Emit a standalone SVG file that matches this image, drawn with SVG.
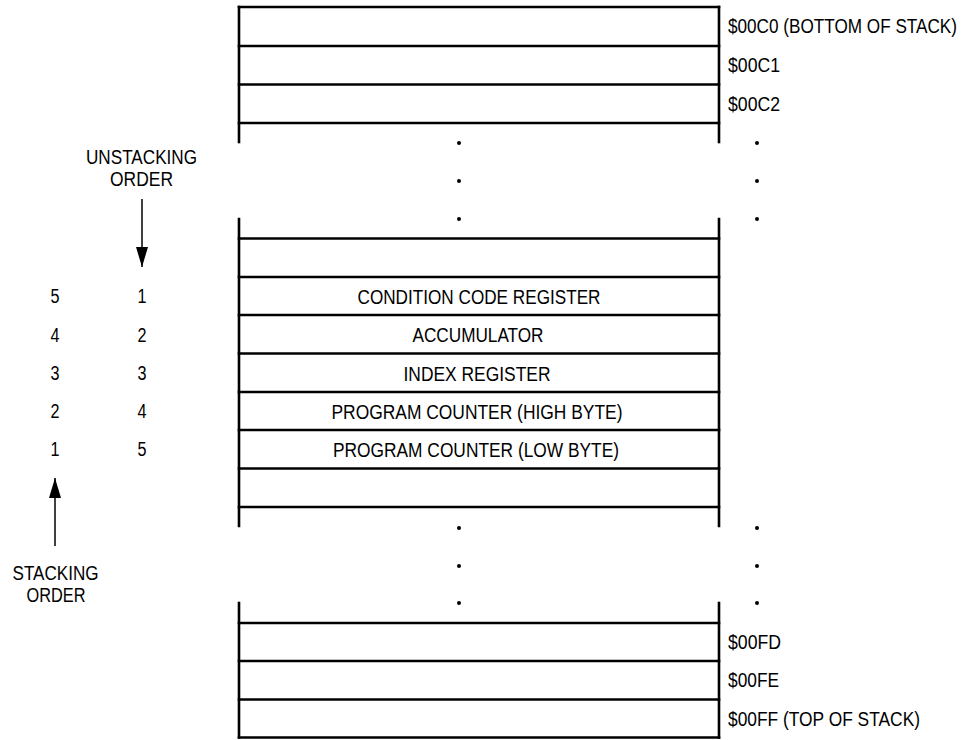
<svg xmlns="http://www.w3.org/2000/svg" width="974" height="740" viewBox="0 0 974 740">
<style>
.ln{stroke:#000;stroke-width:2.6;fill:none;stroke-linecap:square}
.t{font-family:"Liberation Sans",Arial,sans-serif;font-size:20px;fill:#000}
.c{text-anchor:middle}
.dot{fill:#000}
.ar{stroke:#000;stroke-width:1.5;fill:none}
</style>
<defs>
<marker id="ah" markerWidth="20" markerHeight="12" refX="20" refY="6" orient="auto" markerUnits="userSpaceOnUse" viewBox="0 0 20 12">
<path d="M0,0 L20,6 L0,12 Z" fill="#000"/>
</marker>
</defs>
<rect width="974" height="740" fill="#fff"/>

<g id="top-block">
<line class="ln" x1="239" y1="7" x2="239" y2="142"/>
<line class="ln" x1="719" y1="7" x2="719" y2="142"/>
<line class="ln" x1="239" y1="7" x2="719" y2="7"/>
<line class="ln" x1="239" y1="46" x2="719" y2="46"/>
<line class="ln" x1="239" y1="84.5" x2="719" y2="84.5"/>
<line class="ln" x1="239" y1="123" x2="719" y2="123"/>
</g>
<g id="addr-00C0"><text class="t" x="0" y="0" transform="translate(728,33) scale(1,1.18)" style="font-size:17px" textLength="229" lengthAdjust="spacingAndGlyphs">$00C0 (BOTTOM OF STACK)</text></g>
<g id="addr-00C1"><text class="t" x="728" y="72" textLength="52" lengthAdjust="spacingAndGlyphs">$00C1</text></g>
<g id="addr-00C2"><text class="t" x="728" y="110.5" textLength="52" lengthAdjust="spacingAndGlyphs">$00C2</text></g>

<g id="dots-top">
<circle class="dot" cx="459" cy="143" r="2"/><circle class="dot" cx="459" cy="181" r="2"/><circle class="dot" cx="459" cy="219" r="2"/>
<circle class="dot" cx="757" cy="143" r="2"/><circle class="dot" cx="757" cy="181" r="2"/><circle class="dot" cx="757" cy="219" r="2"/>
</g>

<g id="middle-block">
<line class="ln" x1="239" y1="219" x2="239" y2="526"/>
<line class="ln" x1="719" y1="219" x2="719" y2="526"/>
<line class="ln" x1="239" y1="238.5" x2="719" y2="238.5"/>
<line class="ln" x1="239" y1="277" x2="719" y2="277"/>
<line class="ln" x1="239" y1="315" x2="719" y2="315"/>
<line class="ln" x1="239" y1="353.5" x2="719" y2="353.5"/>
<line class="ln" x1="239" y1="392" x2="719" y2="392"/>
<line class="ln" x1="239" y1="430" x2="719" y2="430"/>
<line class="ln" x1="239" y1="468.5" x2="719" y2="468.5"/>
<line class="ln" x1="239" y1="507" x2="719" y2="507"/>
</g>
<g id="ccr"><text class="t c" x="479" y="304" textLength="243" lengthAdjust="spacingAndGlyphs">CONDITION CODE REGISTER</text></g>
<g id="acc"><text class="t c" x="478" y="342" textLength="131" lengthAdjust="spacingAndGlyphs">ACCUMULATOR</text></g>
<g id="ix"><text class="t c" x="477" y="380.5" textLength="147" lengthAdjust="spacingAndGlyphs">INDEX REGISTER</text></g>
<g id="pch"><text class="t c" x="477" y="419" textLength="291" lengthAdjust="spacingAndGlyphs">PROGRAM COUNTER (HIGH BYTE)</text></g>
<g id="pcl"><text class="t c" x="476" y="457" textLength="286" lengthAdjust="spacingAndGlyphs">PROGRAM COUNTER (LOW BYTE)</text></g>

<g id="dots-bottom">
<circle class="dot" cx="459" cy="528" r="2"/><circle class="dot" cx="459" cy="566" r="2"/><circle class="dot" cx="459" cy="603" r="2"/>
<circle class="dot" cx="757" cy="528" r="2"/><circle class="dot" cx="757" cy="566" r="2"/><circle class="dot" cx="757" cy="603" r="2"/>
</g>

<g id="bottom-block">
<line class="ln" x1="239" y1="603" x2="239" y2="737.5"/>
<line class="ln" x1="719" y1="603" x2="719" y2="737.5"/>
<line class="ln" x1="239" y1="623" x2="719" y2="623"/>
<line class="ln" x1="239" y1="661" x2="719" y2="661"/>
<line class="ln" x1="239" y1="699.5" x2="719" y2="699.5"/>
<line class="ln" x1="239" y1="737.5" x2="719" y2="737.5"/>
</g>
<g id="addr-00FD"><text class="t" x="728" y="649" textLength="53" lengthAdjust="spacingAndGlyphs">$00FD</text></g>
<g id="addr-00FE"><text class="t" x="728" y="687" textLength="51" lengthAdjust="spacingAndGlyphs">$00FE</text></g>
<g id="addr-00FF"><text class="t" x="728" y="725.5" textLength="192" lengthAdjust="spacingAndGlyphs">$00FF (TOP OF STACK)</text></g>

<g id="unstacking-label">
<text class="t c" x="141.5" y="164" textLength="111" lengthAdjust="spacingAndGlyphs">UNSTACKING</text>
<text class="t c" x="141.5" y="186" textLength="63" lengthAdjust="spacingAndGlyphs">ORDER</text>
</g>
<g id="stacking-label">
<text class="t c" x="55.5" y="580" textLength="86" lengthAdjust="spacingAndGlyphs">STACKING</text>
<text class="t c" x="56" y="602" textLength="59" lengthAdjust="spacingAndGlyphs">ORDER</text>
</g>
<g id="numbers">
<text class="t c" x="55" y="303" textLength="9" lengthAdjust="spacingAndGlyphs">5</text><text class="t c" x="142" y="303" textLength="9" lengthAdjust="spacingAndGlyphs">1</text>
<text class="t c" x="55" y="341.5" textLength="9" lengthAdjust="spacingAndGlyphs">4</text><text class="t c" x="142" y="341.5" textLength="9" lengthAdjust="spacingAndGlyphs">2</text>
<text class="t c" x="55" y="380" textLength="9" lengthAdjust="spacingAndGlyphs">3</text><text class="t c" x="142" y="380" textLength="9" lengthAdjust="spacingAndGlyphs">3</text>
<text class="t c" x="55" y="418" textLength="9" lengthAdjust="spacingAndGlyphs">2</text><text class="t c" x="142" y="418" textLength="9" lengthAdjust="spacingAndGlyphs">4</text>
<text class="t c" x="55" y="456" textLength="9" lengthAdjust="spacingAndGlyphs">1</text><text class="t c" x="142" y="456" textLength="9" lengthAdjust="spacingAndGlyphs">5</text>
</g>

<g id="connectors">
<line class="ar" x1="142" y1="199" x2="142" y2="267" marker-end="url(#ah)"/>
<line class="ar" x1="55" y1="546" x2="55" y2="478" marker-end="url(#ah)"/>
</g>
</svg>
